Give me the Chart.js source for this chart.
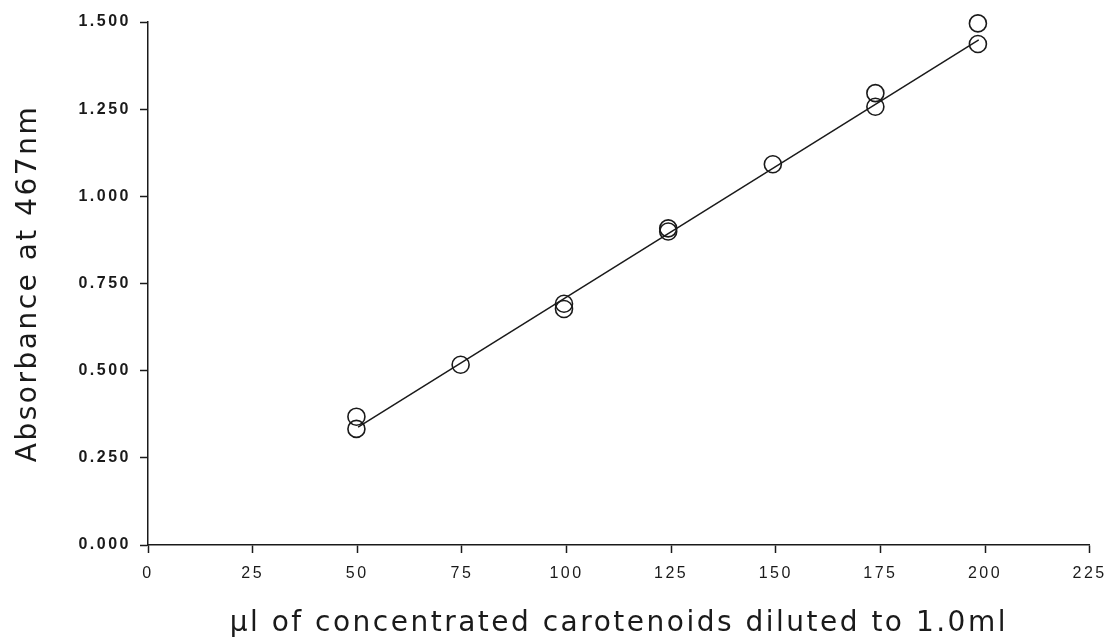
<!DOCTYPE html>
<html lang="en">
<head>
  <meta charset="UTF-8" />
  <title>Absorbance at 467nm</title>
  <script src="https://cdn.jsdelivr.net/npm/chart.js"></script>
  <style>
    html, body { margin: 0; padding: 0; background: #fff; }
    #wrap { width: 1114px; height: 641px; }
  </style>
</head>
<body>
  <div id="wrap"><canvas id="calChart" width="1114" height="641"></canvas></div>

  <script>
    // measured points (two replicates at each volume)
    const volumes = [49.8, 49.8, 74.7, 99.4, 99.4, 124.3, 124.3, 149.3, 173.8, 173.8, 198.3, 198.3];
    const absorbance = [0.368, 0.333, 0.517, 0.692, 0.677, 0.908, 0.899, 1.092, 1.296, 1.257, 1.496, 1.437];

    // fitted line end points
    const fitX = [50.2, 198.5];
    const fitY = [0.338, 1.449];

    const yTicks = [0, 0.25, 0.5, 0.75, 1.0, 1.25, 1.5];

    const titleFont = "'DejaVu Sans', sans-serif";
    const tickFont = "'Liberation Sans', Arial, sans-serif";
    const ink = '#1a1a1a';

    // the old plotter lettering is widely spaced
    const spacing = {
      id: 'spacing',
      beforeDraw(chart) { chart.ctx.letterSpacing = '2.5px'; }
    };

    new Chart(document.getElementById('calChart').getContext('2d'), {
      type: 'scatter',
      data: {
        datasets: [
          {
            label: 'fit',
            type: 'line',
            data: fitX.map((x, i) => ({ x: x, y: fitY[i] })),
            borderColor: ink,
            borderWidth: 1.5,
            pointRadius: 0,
            fill: false,
            clip: false
          },
          {
            label: 'samples',
            data: volumes.map((x, i) => ({ x: x, y: absorbance[i] })),
            pointStyle: 'circle',
            pointRadius: 8.5,
            pointBorderWidth: 1.6,
            pointBorderColor: ink,
            pointBackgroundColor: 'rgba(0,0,0,0)',
            clip: false
          }
        ]
      },
      plugins: [spacing],
      options: {
        responsive: false,
        animation: false,
        layout: { padding: { top: 22, right: 18, left: 0, bottom: 0 } },
        plugins: { legend: { display: false }, tooltip: { enabled: false } },
        scales: {
          x: {
            type: 'linear',
            min: 0,
            max: 225,
            border: { display: true, color: ink, width: 1.5 },
            grid: { drawOnChartArea: false, drawTicks: true, tickLength: 8, tickColor: ink, tickWidth: 1.5 },
            ticks: { stepSize: 25, color: ink, padding: 11, font: { family: tickFont, size: 16 } },
            title: {
              display: true,
              text: 'μl of concentrated carotenoids diluted to 1.0ml',
              color: ink,
              padding: { top: 10, bottom: 0 },
              font: { family: titleFont, size: 28 }
            },
            afterFit: s => { s.height = 96; }
          },
          y: {
            type: 'linear',
            min: 0,
            max: 1.5,
            border: { display: true, color: ink, width: 1.5 },
            grid: { drawOnChartArea: false, drawTicks: true, tickLength: 8, tickColor: ink, tickWidth: 1.5 },
            afterBuildTicks: s => { s.ticks = yTicks.map(v => ({ value: v })); },
            ticks: {
              color: ink,
              padding: 9,
              font: { family: tickFont, size: 16, weight: 'bold' },
              callback: v => Number(v).toFixed(3)
            },
            title: {
              display: true,
              text: 'Absorbance at 467nm',
              color: ink,
              padding: { top: 12, bottom: 10 },
              font: { family: titleFont, size: 28 }
            },
            afterFit: s => { s.width = 148; }
          }
        }
      }
    });
  </script>
</body>
</html>
